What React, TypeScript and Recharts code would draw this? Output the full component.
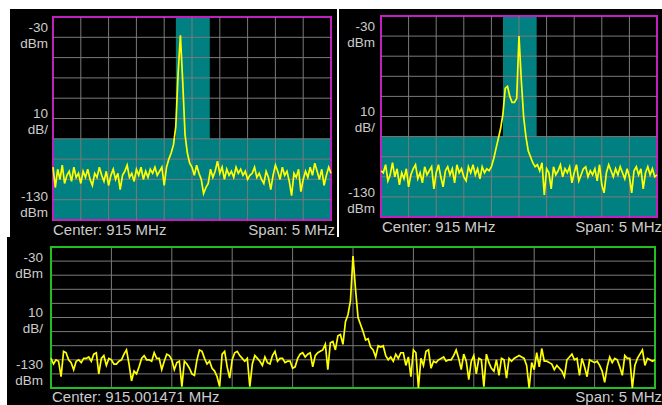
import React from "react";
import {
  LineChart,
  Line,
  XAxis,
  YAxis,
  ReferenceArea,
  ReferenceLine,
} from "recharts";

// analyzer settings
const SPAN = 5;
const TOP_CENTER = 915;
const WIDE_CENTER = 915.001471;
const REF_LEVEL = -30;
const BOTTOM_LEVEL = -130;
const DIVS = 10;

// two-line level labels: top reference, scale, bottom
const levelLabels = [
  ["-30", "dBm"],
  ["10", "dB/"],
  ["-130", "dBm"],
];
const centerLabels = ["Center: 915 MHz", "Center: 915 MHz", "Center: 915.001471 MHz"];
const spanLabel = "Span: 5 MHz";

// mask: everything under -90 dBm plus a full-height window round the carrier
const maskFloor = [-130, -90];
const maskWindow = [914.71, 915.32];

const leftTrace = [
  -104, -114, -105, -110, -103, -112, -108, -106, -111, -104, -109,
  -107, -112, -106, -109, -105, -110, -113, -107, -109, -104,
  -108, -111, -106, -113, -108, -105, -110, -107, -115, -108,
  -106, -103, -109, -107, -111, -105, -108, -104, -110, -106,
  -109, -105, -107, -104, -108, -106, -104, -113,
  -104, -100, -97, -93, -84, -58, -39, -62, -88, -97, -102, -104,
  -108, -103, -107, -110, -117, -114, -112, -105, -109, -106,
  -101, -107, -104, -110, -105, -108, -106, -109, -104, -107,
  -105, -108, -106, -110, -108, -107, -104, -109, -107, -110,
  -112, -106, -109, -115, -108, -103, -106, -110, -104, -108,
  -106, -111, -118, -107, -109, -105, -116, -110, -106, -109,
  -104, -108, -102, -106, -110, -105, -113, -108, -104, -107,
];

const rightTrace = [
  -107, -108, -104, -112, -109, -103, -110, -106, -114, -108, -111,
  -106, -115, -109, -106, -104, -111, -108, -113, -105, -109,
  -107, -105, -116, -108, -104, -110, -115, -107, -105, -109,
  -106, -113, -104, -108, -106, -110, -112, -105, -108, -104,
  -109, -106, -111, -105, -108, -106, -107,
  -105, -101, -96, -91, -86, -79,
  -66, -65, -70, -73, -73, -71, -40, -62, -80, -90, -97, -100, -103, -105,
  -104, -107, -103, -119, -106, -108, -116, -105, -109, -107, -104, -110, -106,
  -108, -105, -113, -108, -104, -112, -109, -106, -105, -110,
  -107, -109, -106, -112, -104, -114, -118, -108, -104, -107,
  -110, -106, -109, -105, -108, -111, -106, -110, -118, -107,
  -105, -109, -106, -116, -108, -105, -109, -106, -110, -109,
];

const wideTrace = [
  -109, -113, -110, -111, -122, -104, -105, -110, -112, -117,
  -111, -110, -112, -109, -109, -108, -111, -106, -105, -120,
  -109, -107, -114, -109, -110, -113, -113, -111, -110, -106,
  -103, -113, -125, -118, -120, -115, -109, -107, -110, -110,
  -111, -105, -109, -109, -117, -111, -106, -107, -110, -117,
  -112, -111, -129, -111, -113, -116, -120, -121, -110, -103,
  -104, -109, -113, -111, -116, -118, -122, -129, -106, -104,
  -115, -123, -110, -105, -104, -107, -109, -111, -109, -129,
  -113, -107, -109, -111, -114, -108, -112, -113, -107, -104,
  -111, -109, -109, -112, -111, -111, -116, -115, -109, -106,
  -105, -108, -106, -105, -115, -107, -105, -104, -103, -99,
  -117, -98, -97, -103, -93, -92, -99, -83, -78, -68,
  -36.5, -60, -80, -85, -90, -96, -95, -101, -103, -108,
  -100, -101, -100, -107, -110, -108, -111, -106, -109, -105,
  -105, -114, -108, -122, -103, -105, -130, -109, -114, -104,
  -103, -116, -111, -112, -110, -109, -108, -111, -110, -110,
  -107, -103, -109, -117, -106, -111, -124, -111, -107, -120,
  -109, -110, -129, -106, -112, -116, -118, -110, -121, -109,
  -110, -123, -109, -111, -109, -108, -107, -108, -109, -114,
  -130, -112, -117, -105, -115, -102, -111, -111, -112, -113,
  -117, -114, -116, -118, -122, -110, -108, -106, -110, -109,
  -121, -109, -115, -122, -110, -111, -112, -111, -114, -118,
  -126, -115, -108, -112, -109, -110, -115, -121, -107, -109,
  -109, -130, -114, -109, -106, -103, -114, -109, -110, -111, -110,
];

const TEAL = "#008080";
const GRID = "#7a7a7a";
const TRACE = "#ffff00";
const TEXT = "#cccccc";
const FONT = "'Liberation Sans', Arial, sans-serif";

interface Box {
  left: number;
  top: number;
  width: number;
  height: number;
}

const Panel: React.FC<{
  trace: number[];
  center: number;
  frame: string;
  box: Box;
  mask?: boolean;
}> = ({ trace, center, frame, box, mask }) => {
  const lo = center - SPAN / 2;
  const hi = center + SPAN / 2;
  const step = SPAN / (trace.length - 1);
  const data = trace.map((dbm, i) => ({ f: lo + i * step, dbm }));
  const xGrid = Array.from({ length: DIVS - 1 }, (_, k) => lo + ((k + 1) * SPAN) / DIVS);
  const yGrid = Array.from(
    { length: DIVS - 1 },
    (_, k) => REF_LEVEL - ((k + 1) * (REF_LEVEL - BOTTOM_LEVEL)) / DIVS
  );

  return (
    <div style={{ position: "absolute", left: box.left, top: box.top }}>
      <LineChart
        width={box.width}
        height={box.height}
        data={data}
        margin={{ top: 2, right: 2, bottom: 2, left: 2 }}
      >
        <XAxis type="number" dataKey="f" domain={[lo, hi]} hide />
        <YAxis type="number" domain={[BOTTOM_LEVEL, REF_LEVEL]} allowDataOverflow hide />
        {mask && (
          <ReferenceArea y1={maskFloor[0]} y2={maskFloor[1]} fill={TEAL} fillOpacity={1} stroke="none" />
        )}
        {mask && (
          <ReferenceArea x1={maskWindow[0]} x2={maskWindow[1]} fill={TEAL} fillOpacity={1} stroke="none" />
        )}
        {xGrid.map((v) => (
          <ReferenceLine key={`x${v}`} x={v} stroke={GRID} strokeWidth={1} />
        ))}
        {yGrid.map((v) => (
          <ReferenceLine key={`y${v}`} y={v} stroke={GRID} strokeWidth={1} />
        ))}
        <ReferenceArea
          x1={lo}
          x2={hi}
          y1={BOTTOM_LEVEL}
          y2={REF_LEVEL}
          fill="none"
          stroke={frame}
          strokeWidth={2}
        />
        <Line
          type="linear"
          dataKey="dbm"
          stroke={TRACE}
          strokeWidth={1.7}
          dot={false}
          activeDot={false}
          isAnimationActive={false}
        />
      </LineChart>
    </div>
  );
};

// text placement per panel: right edge of level labels, first-line baselines, footer
const labelSets = [
  { x: 48, ys: [32, 118, 201], cx: 53, spanX: 335, fy: 235 },
  { x: 375, ys: [31, 116, 197], cx: 382, spanX: 662, fy: 232 },
  { x: 43, ys: [262, 317, 369], cx: 52, spanX: 662, fy: 402 },
];
const LINE_GAP = 15.5;

export default function App() {
  return (
    <div
      style={{
        position: "absolute",
        left: 0,
        top: 0,
        width: 662,
        height: 405,
        background: "#ffffff",
        overflow: "hidden",
      }}
    >
      <div style={{ position: "absolute", left: 10, top: 9, width: 327, height: 229, background: "#000" }} />
      <div style={{ position: "absolute", left: 339, top: 9, width: 323, height: 229, background: "#000" }} />
      <div style={{ position: "absolute", left: 7, top: 237, width: 655, height: 168, background: "#000" }} />

      <Panel trace={leftTrace} center={TOP_CENTER} frame="#c020c0" mask box={{ left: 51, top: 15, width: 282, height: 207 }} />
      <Panel trace={rightTrace} center={TOP_CENTER} frame="#c020c0" mask box={{ left: 379, top: 14, width: 280, height: 205 }} />
      <Panel trace={wideTrace} center={WIDE_CENTER} frame="#20c020" box={{ left: 49, top: 245, width: 608, height: 145 }} />

      <svg
        width={662}
        height={405}
        style={{ position: "absolute", left: 0, top: 0, pointerEvents: "none" }}
      >
        {labelSets.map((s, p) => (
          <g key={p} fontFamily={FONT} fill={TEXT}>
            {levelLabels.map((pair, i) => (
              <text key={i} x={s.x} y={s.ys[i]} textAnchor="end" fontSize={13.5}>
                <tspan x={s.x}>{pair[0]}</tspan>
                <tspan x={s.x} dy={LINE_GAP}>
                  {pair[1]}
                </tspan>
              </text>
            ))}
            <text x={s.cx} y={s.fy} fontSize={15}>
              {centerLabels[p]}
            </text>
            <text x={s.spanX} y={s.fy} textAnchor="end" fontSize={15}>
              {spanLabel}
            </text>
          </g>
        ))}
      </svg>
    </div>
  );
}
